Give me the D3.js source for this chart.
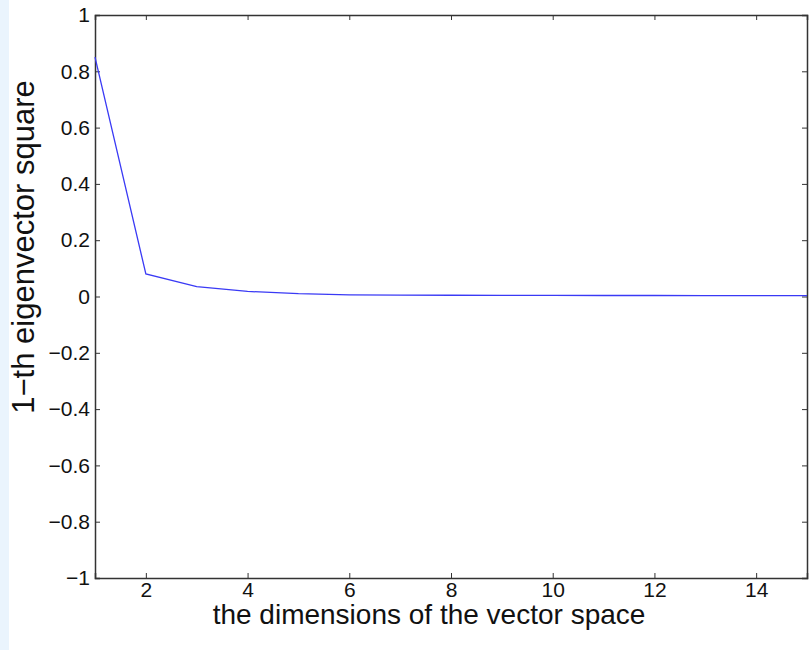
<!DOCTYPE html>
<html>
<head>
<meta charset="utf-8">
<script src="https://cdn.jsdelivr.net/npm/d3@7"></script>
<style>
  body { margin: 0; background: #fff; }
  svg { display: block; }
  text { font-family: "Liberation Sans", Arial, sans-serif; fill: #111; }
</style>
</head>
<body>
<svg id="chart" width="812" height="650"></svg>
<script>
// data
const dims = [1, 2, 3, 4, 5, 6, 7, 8, 9, 10, 11, 12, 13, 14, 15]
const eigSquare = [0.85, 0.08, 0.035, 0.018, 0.01, 0.006, 0.005, 0.0045, 0.004, 0.004, 0.0035, 0.0035, 0.003, 0.003, 0.003]
const xTicks = [2, 4, 6, 8, 10, 12, 14]
const yTicks = [-1, -0.8, -0.6, -0.4, -0.2, 0, 0.2, 0.4, 0.6, 0.8, 1]

const W = 812, H = 650
const m = { left: 95, right: 5, top: 15, bottom: 72 }
const svg = d3.select('#chart')

// pale strip at the left edge
svg.append('rect').attr('x', 0).attr('y', 0).attr('width', 9).attr('height', H).attr('fill', '#eaf4fd')

const x = d3.scaleLinear().domain([1, 15]).range([m.left, W - m.right])
const y = d3.scaleLinear().domain([-1, 1]).range([H - m.bottom, m.top])

const fmt = d => (d < 0 ? '\u2212' : '') + d3.format('~g')(Math.abs(d))

// axes, ticks inward like matlab
const tk = 5
svg.append('g')
    .attr('transform', `translate(0,${y(-1)})`)
    .call(d3.axisBottom(x).tickValues(xTicks).tickSize(-tk).tickPadding(4).tickFormat(fmt))
svg.append('g')
    .attr('transform', `translate(0,${y(1)})`)
    .call(d3.axisTop(x).tickValues(xTicks).tickSize(-tk).tickFormat(''))
svg.append('g')
    .attr('transform', `translate(${x(1)},0)`)
    .call(d3.axisLeft(y).tickValues(yTicks).tickSize(-tk).tickPadding(5).tickFormat(fmt))
svg.append('g')
    .attr('transform', `translate(${x(15)},0)`)
    .call(d3.axisRight(y).tickValues(yTicks).tickSize(-tk).tickFormat(''))

svg.selectAll('.domain').attr('stroke', '#333').attr('stroke-width', 1.5)
svg.selectAll('.tick line').attr('stroke', '#333')
svg.selectAll('.tick text').attr('font-size', 21).attr('fill', '#111')

// line
svg.append('path')
    .datum(dims.map((d, i) => [d, eigSquare[i]]))
    .attr('fill', 'none')
    .attr('stroke', '#3a3af5')
    .attr('stroke-width', 1.3)
    .attr('d', d3.line().x(d => x(d[0])).y(d => y(d[1])))

// labels
svg.append('text')
    .attr('x', 429).attr('y', 624)
    .attr('text-anchor', 'middle')
    .style('font-size', '28px')
    .text('the dimensions of the vector space')

svg.append('text')
    .attr('transform', 'translate(34,247) rotate(-90)')
    .attr('text-anchor', 'middle')
    .style('font-size', '31px')
    .text('1\u2212th eigenvector square')
</script>
</body>
</html>
